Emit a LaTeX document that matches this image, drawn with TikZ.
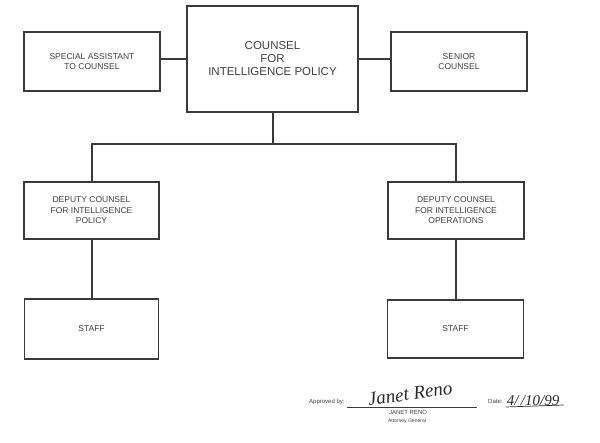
\documentclass[tikz,border=0pt]{standalone}
\usepackage{fontspec}
\setmainfont{Liberation Sans}
\newfontfamily\handfont{Liberation Serif}
\definecolor{ink}{HTML}{3A3A3A}
\definecolor{txt}{HTML}{404040}
\definecolor{pen}{HTML}{2A2A2A}
\tikzset{
  orgbox/.style={draw=ink, line width=1.5pt, rectangle, inner sep=2pt, align=center, text=txt,
    font=\fontsize{8.5}{10.5}\selectfont},
  mainbox/.style={orgbox, font=\fontsize{11.5}{13}\selectfont},
  link/.style={draw=ink, line width=2pt},
  small/.style={text=txt, font=\fontsize{6}{7}\selectfont, inner sep=0pt},
  hand/.style={text=pen, inner sep=0pt, font=\handfont\itshape}
}
\begin{document}
\begin{tikzpicture}[x=1pt,y=-1pt]
\useasboundingbox[fill=white] (0,0) rectangle (600,443);

\node[mainbox, minimum width=171pt, minimum height=106pt] (main) at (272.5,59) {COUNSEL\\FOR\\INTELLIGENCE POLICY};
\node[orgbox, minimum width=136pt, minimum height=59pt] (sa) at (92,61.5) {SPECIAL ASSISTANT\\TO COUNSEL};
\node[orgbox, minimum width=136pt, minimum height=59pt] (sc) at (459,61.5) {SENIOR\\COUNSEL};
\node[orgbox, minimum width=135pt, minimum height=57pt] (dl) at (91.5,210.5) {DEPUTY COUNSEL\\FOR INTELLIGENCE\\POLICY};
\node[orgbox, minimum width=136pt, minimum height=57pt] (dr) at (456,210.5) {DEPUTY COUNSEL\\FOR INTELLIGENCE\\OPERATIONS};
\node[orgbox, minimum width=134pt, minimum height=60pt] (sl) at (91.5,329) {STAFF};
\node[orgbox, minimum width=136pt, minimum height=58pt] (sr) at (455.5,329) {STAFF};

\coordinate (bar) at (272.5,144);
\draw[link] (main.west) -- (main.west -| sa.east);
\draw[link] (main.east) -- (main.east -| sc.west);
\draw[link] (main.south) -- (bar);
\draw[link] (dl.north) |- (bar) -| (dr.north);
\draw[link] (dl.south) -- (dl.south |- sl.north);
\draw[link] (dr.south) -- (dr.south |- sr.north);

% approval block
\node[small, anchor=base west] (appr) at (309,404) {Approved by:};
\coordinate (sigend) at (477,407);
\draw[ink, line width=0.8pt] (appr.base east) ++(2,3) coordinate (sigstart) -- (sigend);
\node[hand, font=\handfont\itshape\fontsize{19}{19}\selectfont, rotate=8] (sig) at (410,394) {Janet Reno};
\node[small, font=\fontsize{6}{7}\selectfont] (name) at (408,412) {JANET RENO};
\node[small, font=\fontsize{5}{6}\selectfont] (title) at (407,421) {Attorney General};
\node[small, anchor=base west] (datel) at (488,404) {Date:};
\node[hand, font=\handfont\itshape\fontsize{15}{15}\selectfont] (date) at (533,401) {4/\,/10/99};
\draw[pen, line width=0.7pt] (datel.base east) ++(3,3) -- ++(58,-2);
\end{tikzpicture}
\end{document}
